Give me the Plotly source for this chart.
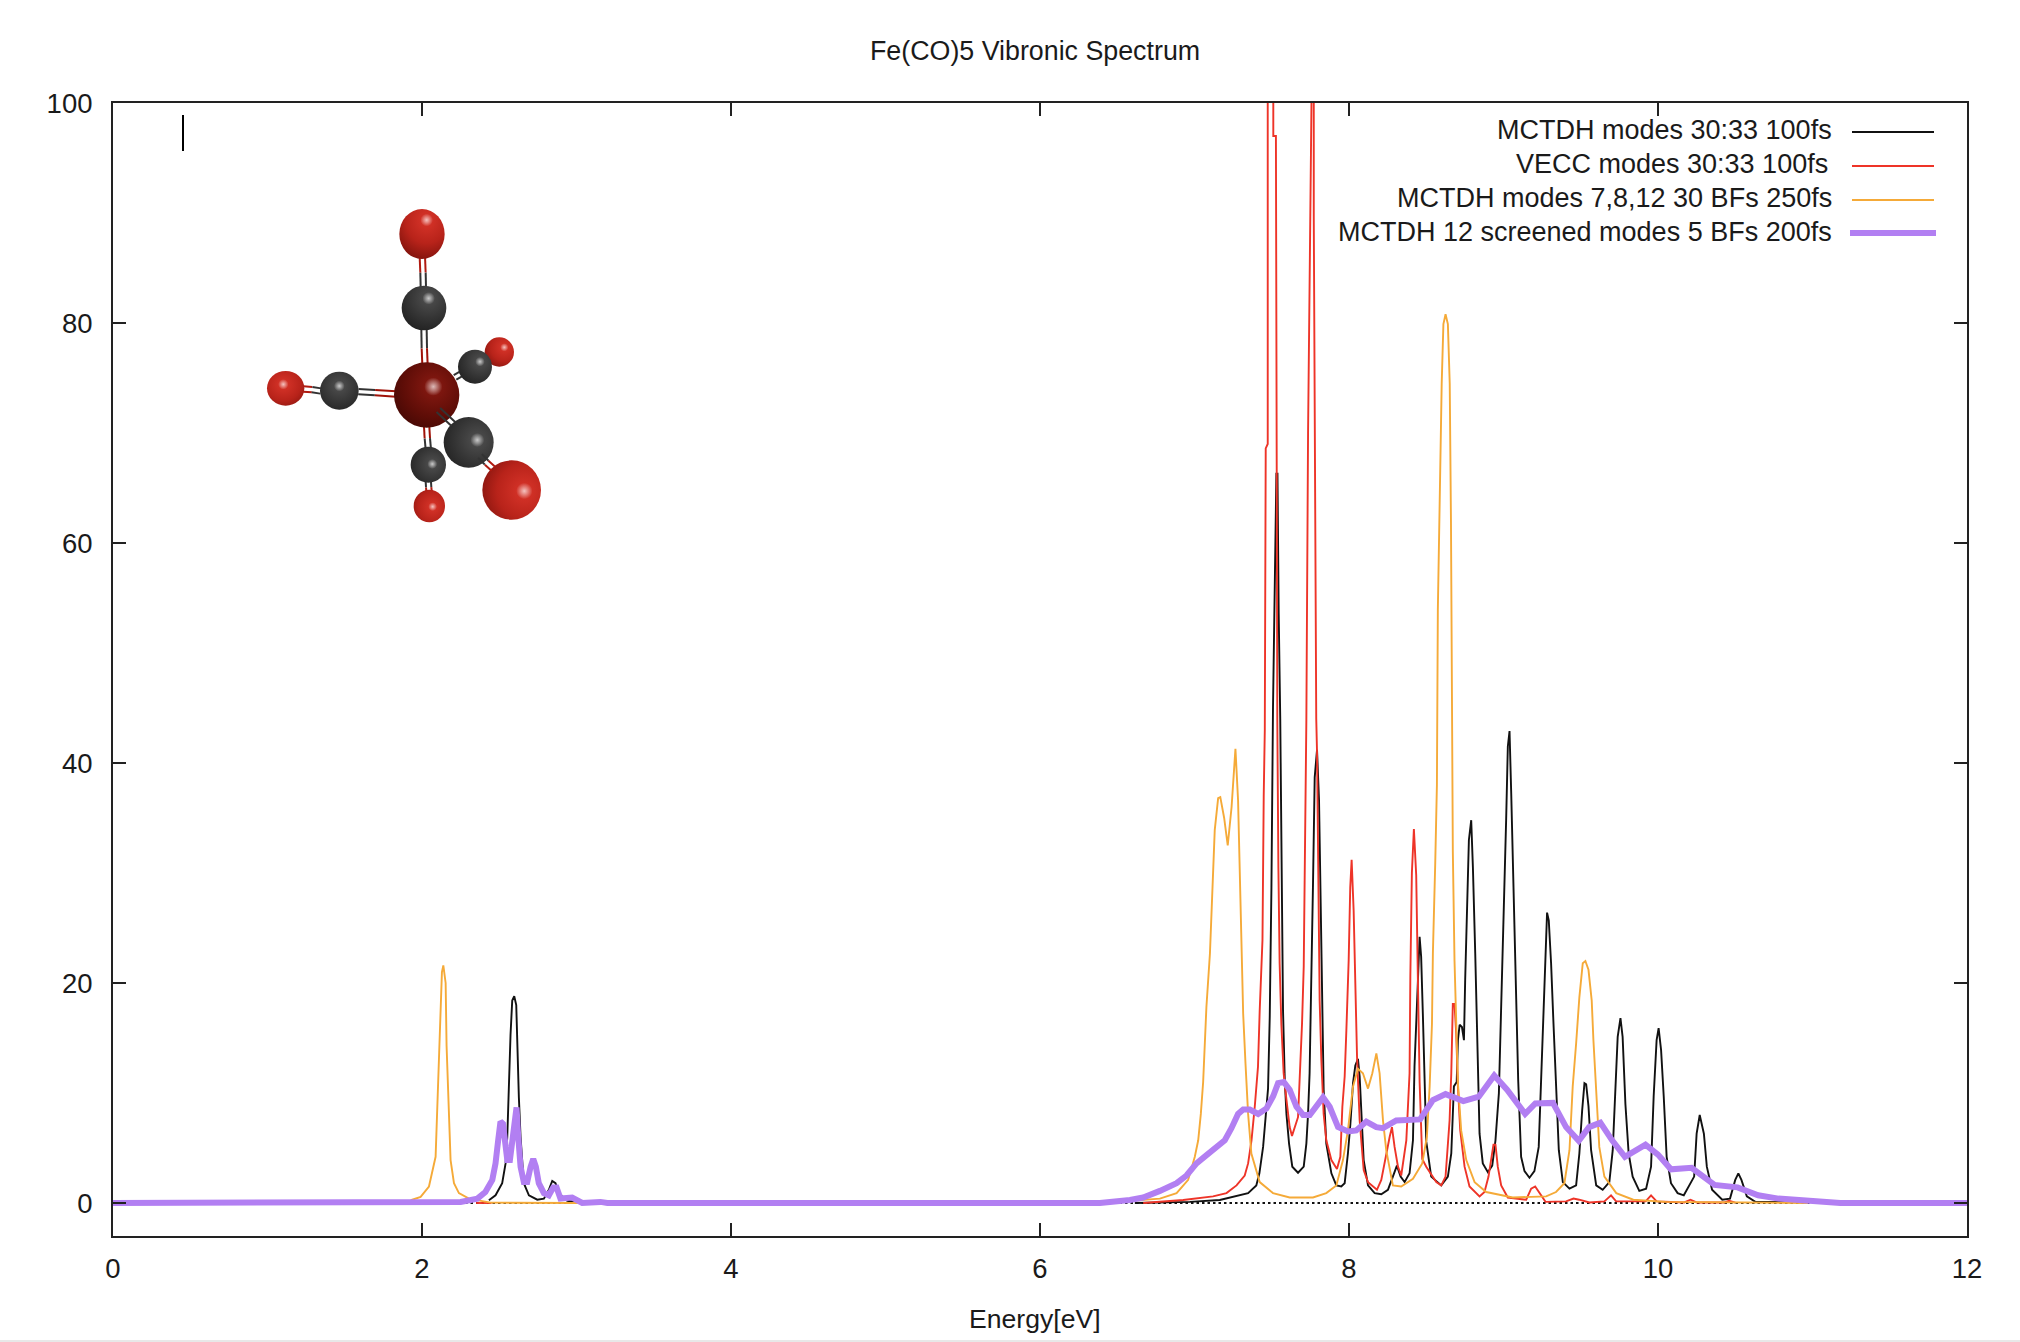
import base64
import plotly.graph_objects as go

TITLE = "Fe(CO)5 Vibronic Spectrum"
X_LABEL = "Energy[eV]"
X_TICKS = [0, 2, 4, 6, 8, 10, 12]
Y_TICKS = [0, 20, 40, 60, 80, 100]
LEGEND_LABELS = ["MCTDH modes 30:33 100fs", "VECC modes 30:33 100fs",
                 "MCTDH modes 7,8,12 30 BFs 250fs", "MCTDH 12 screened modes 5 BFs 200fs"]

BLACK = [
 (2.433,.25),(2.476,.7),(2.519,1.8),(2.541,3.6),(2.552,6),(2.562,10.7),(2.573,15.3),(2.584,18.4),(2.597,18.8),
 (2.61,18),(2.616,14.5),(2.627,9.6),(2.638,6),(2.659,1.8),(2.692,.7),(2.746,.3),(2.789,.4),(2.821,1.2),(2.843,2),
 (2.864,1.8),(2.886,.9),(2.94,.2),(3.05,0),(None,None),
 (6.614,0),(6.97,.1),(7.164,.27),(7.27,.6),(7.347,.9),(7.4,1.6),(7.42,2.7),(7.444,5.1),(7.459,7.8),(7.476,10.4),
 (7.487,16.9),(7.498,28.7),(7.508,45),(7.52,59.8),(7.53,66.3),(7.537,66.3),(7.54,60.4),(7.545,53.6),(7.555,44),
 (7.562,30),(7.569,25),(7.573,17.5),(7.584,11.3),(7.595,8.1),(7.612,5.4),(7.633,3.3),(7.67,2.75),(7.707,3.3),
 (7.724,5.4),(7.735,8.1),(7.745,11.8),(7.756,19),(7.767,29),(7.778,38.7),(7.793,41.2),(7.806,36.6),(7.817,26.9),
 (7.827,17.2),(7.836,10.3),(7.853,5.4),(7.886,2.7),(7.918,1.6),(7.95,1.5),(7.972,1.8),(7.993,4.5),(8.009,7.2),
 (8.026,10.9),(8.041,12.5),(8.058,13.1),(8.069,11.5),(8.08,8.1),(8.095,3.9),(8.123,1.6),(8.166,.9),(8.209,.8),
 (8.252,1.2),(8.284,2.4),(8.31,3.4),(8.334,2.4),(8.36,1.9),(8.392,2.7),(8.414,5.7),(8.424,12.4),(8.435,15.7),
 (8.446,20.2),(8.457,24.2),(8.467,22.4),(8.478,17.2),(8.489,11.8),(8.5,5.6),(8.532,2.4),(8.597,1.6),(8.64,2.4),
 (8.662,4.5),(8.679,10.6),(8.697,11),(8.705,14.8),(8.716,16.2),(8.731,16),(8.744,14.8),(8.752,20.3),(8.763,27.4),
 (8.776,33),(8.791,34.8),(8.802,30.5),(8.817,22.7),(8.83,14.8),(8.845,6.3),(8.866,3.6),(8.899,2.8),(8.927,3.4),
 (8.948,5.7),(8.97,9.96),(8.985,17.2),(9,25.4),(9.017,34.8),(9.028,41.5),(9.039,42.9),(9.05,37.2),(9.065,27.8),
 (9.082,18.7),(9.095,11.2),(9.114,4.2),(9.136,2.9),(9.168,2.3),(9.2,2.9),(9.228,5.1),(9.244,10.9),(9.259,16.9),
 (9.272,22.7),(9.282,26.4),(9.293,25.7),(9.308,21.8),(9.323,16.5),(9.34,11.2),(9.358,4.8),(9.384,1.9),(9.427,1.3),
 (9.47,1.6),(9.491,4.5),(9.509,8.4),(9.524,10.9),(9.535,10.8),(9.55,8.8),(9.567,4.8),(9.6,1.6),(9.642,1.2),
 (9.685,1.9),(9.707,4.8),(9.724,10),(9.739,15.1),(9.757,16.8),(9.771,15.1),(9.789,9),(9.81,4.5),(9.836,2.4),
 (9.879,1.1),(9.923,1.3),(9.955,3.3),(9.972,9.7),(9.991,14.8),(10.004,15.9),(10.02,13.9),(10.037,9.7),(10.056,4.2),
 (10.084,1.8),(10.127,.9),(10.167,.7),(10.234,2.4),(10.25,6.3),(10.27,8),(10.297,6.3),(10.316,3.3),(10.35,1.2),
 (10.416,.3),(10.466,.4),(10.5,2.1),(10.52,2.7),(10.54,2.1),(10.575,.6),(10.63,.1),(10.715,.1),(10.85,.1),
]

RED = [
 (2.35,0),(2.45,0),(None,None),
 (6.668,0),(6.927,.27),(7.12,.6),(7.207,.9),(7.272,1.6),(7.325,2.5),(7.347,3.6),(7.369,5.7),(7.39,8.75),(7.411,12.4),
 (7.422,17.5),(7.44,23.9),(7.448,37),(7.455,43),(7.461,68.6),(7.474,69),(7.474,100),(7.49,112),(7.51,100),(7.51,97),
 (7.527,97),(7.533,45),(7.536,43.9),(7.543,30.5),(7.551,21.8),(7.562,16.3),(7.577,11.8),(7.595,9.4),(7.616,6.9),
 (7.631,6.1),(7.648,6.8),(7.67,7.8),(7.685,12.7),(7.696,16.3),(7.707,21.5),(7.713,29.6),(7.724,43.9),(7.735,70),
 (7.749,95.3),(7.76,104),(7.766,108),(7.772,100),(7.772,89.7),(7.78,57.2),(7.788,44),(7.793,41),(7.81,18.4),
 (7.821,13),(7.836,8.1),(7.853,5.7),(7.886,3.9),(7.922,3.1),(7.944,4.2),(7.957,8.75),(7.972,11.5),(7.983,15.7),
 (7.998,22.1),(8.008,28.7),(8.017,31.2),(8.03,26.6),(8.043,18.1),(8.052,13.3),(8.069,7.5),(8.095,3),(8.123,1.9),
 (8.181,1.2),(8.209,2.1),(8.241,4.5),(8.263,6),(8.278,6.9),(8.295,5.1),(8.317,3.3),(8.338,2.5),(8.371,5.7),
 (8.392,11.8),(8.397,20.6),(8.407,30),(8.42,34),(8.435,29.8),(8.446,20.2),(8.457,11),(8.474,4),(8.5,3.3),(8.565,1.9),
 (8.597,1.6),(8.625,2.4),(8.651,7.5),(8.662,11.8),(8.672,18.1),(8.683,18.1),(8.694,15.4),(8.705,10.6),(8.72,6.6),
 (8.748,3.3),(8.78,1.5),(8.845,.6),(8.877,1),(8.903,2.4),(8.92,4.2),(8.935,5.3),(8.948,5.3),(8.963,3.3),(8.985,1.6),
 (9.028,.5),(9.147,.3),(9.179,1.3),(9.205,1.5),(9.233,.9),(9.272,.1),(9.405,.15),(9.453,.4),(9.49,.3),(9.556,.05),
 (9.653,.15),(9.696,.7),(9.729,.15),(9.92,.15),(9.955,.7),(9.991,.15),(10.17,.05),(10.21,.3),(10.25,.05),(10.43,.05),
 (10.46,.2),(10.5,.03),
]

ORANGE = [
 (1.927,.25),(1.991,.55),(2.045,1.5),(2.071,3),(2.088,4.2),(2.099,8.7),(2.116,15.7),(2.129,21),(2.138,21.6),(2.153,20),
 (2.159,14.3),(2.17,9),(2.185,3.9),(2.207,1.8),(2.239,.9),(2.304,.4),(2.444,.03),(3.0,0),(6.4,0),(6.776,.4),(6.884,.9),
 (6.959,2.1),(7.002,4.2),(7.024,5.7),(7.041,8.1),(7.056,11),(7.077,17.8),(7.1,22.7),(7.114,28.4),(7.131,33.9),
 (7.153,36.8),(7.167,36.9),(7.192,35),(7.215,32.5),(7.24,36),(7.265,41.3),(7.282,36.6),(7.293,30.2),(7.304,23.3),
 (7.315,17.2),(7.33,12.7),(7.347,8.1),(7.368,4.5),(7.422,1.9),(7.508,.9),(7.616,.5),(7.767,.5),(7.853,.9),(7.918,1.6),
 (7.961,3.9),(7.993,6.6),(8.026,10.6),(8.058,12.2),(8.09,11.8),(8.123,10.4),(8.151,11.8),(8.177,13.6),(8.198,11.8),
 (8.22,7.5),(8.241,4.8),(8.284,1.6),(8.338,1.5),(8.414,2.2),(8.474,3.6),(8.504,6),(8.522,10.6),(8.537,16.3),(8.543,22.7),
 (8.558,30.8),(8.569,38),(8.575,53.9),(8.588,65.6),(8.6,74.5),(8.611,79.9),(8.625,80.8),(8.64,79.9),(8.652,74.5),
 (8.66,61.9),(8.666,46),(8.672,32),(8.683,22),(8.694,15.7),(8.705,10.9),(8.726,6.6),(8.759,3.9),(8.813,1.9),(8.888,1),
 (9.06,.5),(9.276,.6),(9.34,1),(9.394,1.8),(9.427,4.8),(9.448,10.6),(9.47,14.5),(9.491,18.7),(9.513,21.8),(9.53,22),
 (9.55,21.2),(9.571,18.4),(9.582,14.8),(9.6,10),(9.62,5.1),(9.653,2.4),(9.73,.9),(9.84,.3),(10.05,.1),(10.97,0),
]

PURPLE = [
 (0,0),(1.862,0),(2.25,.1),(2.358,.4),(2.41,1),(2.455,2.1),(2.476,3.6),(2.493,5.7),(2.508,7.4),(2.524,7.2),(2.537,5.1),
 (2.552,3.9),(2.569,3.9),(2.584,5.7),(2.6,8.4),(2.612,8.7),(2.623,6),(2.638,3.3),(2.659,1.9),(2.681,1.9),(2.703,3.3),
 (2.72,4),(2.737,3.3),(2.756,1.8),(2.789,.9),(2.821,.7),(2.849,1.4),(2.871,1.4),(2.896,.4),(2.972,.5),(3.037,0),(3.1,.1),
 (3.155,.1),(3.2,0),(6.388,0),(6.582,.27),(6.668,.5),(6.776,1.1),(6.884,1.8),(6.948,2.5),(7.013,3.6),(7.078,4.35),
 (7.132,4.9),(7.196,5.7),(7.239,6.8),(7.282,8.1),(7.315,8.5),(7.358,8.5),(7.412,8.1),(7.466,8.6),(7.509,9.7),(7.541,10.9),
 (7.578,11),(7.616,10.3),(7.66,8.75),(7.703,8),(7.746,8),(7.789,8.75),(7.832,9.6),(7.875,8.75),(7.929,6.9),(7.994,6.5),
 (8.047,6.6),(8.112,7.4),(8.177,6.9),(8.22,6.8),(8.306,7.5),(8.46,7.6),(8.543,9.35),(8.625,9.9),(8.74,9.26),(8.84,9.66),
 (8.94,11.6),(9.023,10.3),(9.14,8.1),(9.206,9.05),(9.32,9.1),(9.405,6.9),(9.487,5.66),(9.554,6.9),(9.627,7.3),(9.703,5.7),
 (9.786,4.2),(9.919,5.3),(10.0,4.4),(10.084,3.06),(10.217,3.2),(10.366,1.64),(10.515,1.42),(10.648,.7),(10.78,.4),
 (10.98,.2),(11.18,0),(12,0),
]

# page geometry (pixels)
W, H = 2020, 1342
L, R, T, B = 113, 1967, 103, 1236
C_BLACK, C_RED, C_ORANGE, C_PURPLE = "#111111", "#ee3428", "#f5aa38", "#b27ff2"
WIDTHS = (1.9, 1.9, 1.9, 6)
FONT = "Liberation Sans"


def px(x):
    return (x - L) / (R - L)


def py(y):
    return (B - y) / (B - T)


# molecule illustration: (x, y, rx, ry, highlight x, highlight y, kind) in a 3x drawing grid
ATOMS = [
 (816, 432, 68, 75, 830, 390, "O"), (822, 654, 67, 67, 836, 625, "C"), (407, 895, 56, 52, 400, 883, "O"),
 (568, 902, 58, 57, 568, 888, "C"), (1048, 786, 44, 44, 1063, 772, "O"), (975, 830, 51, 51, 990, 815, "C"),
 (830, 915, 98, 98, 850, 890, "F"), (838, 1248, 47, 49, 848, 1250, "O"), (835, 1124, 53, 54, 847, 1122, "C"),
 (1085, 1200, 88, 89, 1123, 1203, "O"), (956, 1057, 75, 76, 982, 1050, "C"),
]
BONDS_UNDER = [
 (817, 500, 819, 548, "#b01a10"), (819, 548, 820, 592, "#333333"), (822, 718, 823, 775, "#333333"),
 (823, 775, 825, 825, "#a01208"), (460, 897, 486, 899, "#b01a10"), (486, 899, 512, 903, "#333333"),
 (625, 905, 675, 908, "#333333"), (675, 908, 738, 912, "#a01208"), (915, 862, 945, 845, "#333333"),
 (1015, 803, 1030, 795, "#b01a10"), (830, 1010, 832, 1045, "#a01208"), (832, 1045, 835, 1078, "#333333"),
 (835, 1175, 836, 1192, "#333333"), (836, 1192, 838, 1212, "#b01a10"),
]
BONDS_OVER = [(865, 960, 910, 1002, "#333333"), (990, 1098, 1010, 1118, "#333333"), (1010, 1118, 1030, 1136, "#b01a10")]
GRADS = {"O": ("#d9352a", "#b8231a", "#7c120c"), "C": ("#505050", "#333333", "#1c1c1c"), "F": ("#8a1a12", "#5e0d07", "#360603")}


def double_bond(b):
    x1, y1, x2, y2, col = b
    dx, dy = x2 - x1, y2 - y1
    n = (dx * dx + dy * dy) ** 0.5 or 1
    ox, oy = -dy / n * 8, dx / n * 8
    out = ""
    for s in (1, -1):
        out += f'<line x1="{x1+s*ox}" y1="{y1+s*oy}" x2="{x2+s*ox}" y2="{y2+s*oy}" stroke="{col}" stroke-width="6"/>'
    return out


defs, body = "", ""
for b in BONDS_UNDER:
    body += double_bond(b)
for i, (cx, cy, rx, ry, hx, hy, k) in enumerate(ATOMS):
    c0, c1, c2 = GRADS[k]
    fx = 50 + (hx - cx) / rx * 50
    fy = 50 + (hy - cy) / ry * 50
    defs += (f'<radialGradient id="b{i}" cx="{fx}%" cy="{fy}%" r="85%">'
             f'<stop offset="0" stop-color="{c0}"/><stop offset="0.55" stop-color="{c1}"/>'
             f'<stop offset="1" stop-color="{c2}"/></radialGradient>')
    defs += (f'<radialGradient id="h{i}"><stop offset="0" stop-color="#ffffff" stop-opacity="0.7"/>'
             f'<stop offset="1" stop-color="#ffffff" stop-opacity="0"/></radialGradient>')
    body += f'<ellipse cx="{cx}" cy="{cy}" rx="{rx}" ry="{ry}" fill="url(#b{i})"/>'
    body += f'<circle cx="{hx}" cy="{hy}" r="{rx * 0.28}" fill="url(#h{i})"/>'
for b in BONDS_OVER:
    body += double_bond(b)
svg = (f'<svg xmlns="http://www.w3.org/2000/svg" width="450" height="460" viewBox="0 0 1350 1380">'
       f'<defs>{defs}</defs>{body}</svg>')
svg_uri = "data:image/svg+xml;base64," + base64.b64encode(svg.encode()).decode()


def unpack(pairs):
    return [p[0] for p in pairs], [p[1] for p in pairs]


fig = go.Figure()
fig.add_trace(go.Scatter(x=[0, 12], y=[0, 0], mode="lines", hoverinfo="skip", showlegend=False,
                         line=dict(color="#111111", width=2, dash="2.5px,3px")))
for name, data, col, wid in zip(LEGEND_LABELS, (BLACK, RED, ORANGE, PURPLE),
                                (C_BLACK, C_RED, C_ORANGE, C_PURPLE), WIDTHS):
    xs, ys = unpack(data)
    fig.add_trace(go.Scatter(x=xs, y=ys, mode="lines", name=name, showlegend=False,
                             line=dict(color=col, width=wid), connectgaps=False))

annotations = [
    dict(text=TITLE, x=px(1035), y=py(51), xref="paper", yref="paper", showarrow=False,
         font=dict(family=FONT, size=26.8, color="#1a1a1a"), xanchor="center", yanchor="middle"),
    dict(text=X_LABEL, x=px(1035), y=py(1319), xref="paper", yref="paper", showarrow=False,
         font=dict(family=FONT, size=26.6, color="#1a1a1a"), xanchor="center", yanchor="middle"),
]
shapes = [
    dict(type="rect", xref="paper", yref="paper", x0=px(0), x1=px(W), y0=py(H), y1=py(1340),
         fillcolor="#e8e8e8", line_width=0, layer="below"),
    dict(type="line", xref="paper", yref="paper", x0=px(183), x1=px(183), y0=py(115), y1=py(151),
         line=dict(color="#000000", width=2)),
]
ROW_Y = [130, 164, 198, 232]
ROW_END = [1834, 1830, 1834, 1834]
SAMPLE_Y = [132, 166, 200, 233]
SAMPLE_X = [(1852, 1934), (1852, 1934), (1852, 1934), (1850, 1936)]
for label, ry, re_, sy, sx, col, wid in zip(LEGEND_LABELS, ROW_Y, ROW_END, SAMPLE_Y, SAMPLE_X,
                                            (C_BLACK, C_RED, C_ORANGE, C_PURPLE), WIDTHS):
    annotations.append(dict(text=label, x=px(re_), y=py(ry), xref="paper", yref="paper", showarrow=False,
                            font=dict(family=FONT, size=27, color="#1a1a1a"), xanchor="right", yanchor="middle"))
    shapes.append(dict(type="line", xref="paper", yref="paper", x0=px(sx[0]), x1=px(sx[1]), y0=py(sy), y1=py(sy),
                       line=dict(color=col, width=wid)))

axis = dict(showgrid=False, zeroline=False, showline=True, linecolor="#222222", linewidth=2, mirror="ticks",
            ticks="inside", ticklen=13, tickwidth=1.5, tickcolor="#222222",
            tickfont=dict(family=FONT, size=27.5, color="#1a1a1a"))
fig.update_layout(
    width=W, height=H, autosize=False, paper_bgcolor="white", plot_bgcolor="white", showlegend=False,
    margin=dict(l=L, r=W - R, t=T, b=H - B, pad=0),
    xaxis=dict(axis, range=[0, 12], tickmode="array", tickvals=X_TICKS, ticklabelstandoff=7),
    yaxis=dict(axis, range=[-3, 100], tickmode="array", tickvals=Y_TICKS, ticklabelstandoff=13),
    annotations=annotations, shapes=shapes,
    images=[dict(source=svg_uri, xref="paper", yref="paper", x=px(150), y=py(90), sizex=450 / (R - L),
                 sizey=460 / (B - T), xanchor="left", yanchor="top", sizing="stretch", layer="above")],
)
fig.write_html("out.html", config=dict(displayModeBar=False),
               post_script="document.body.style.margin='0';document.body.style.overflow='hidden';")
